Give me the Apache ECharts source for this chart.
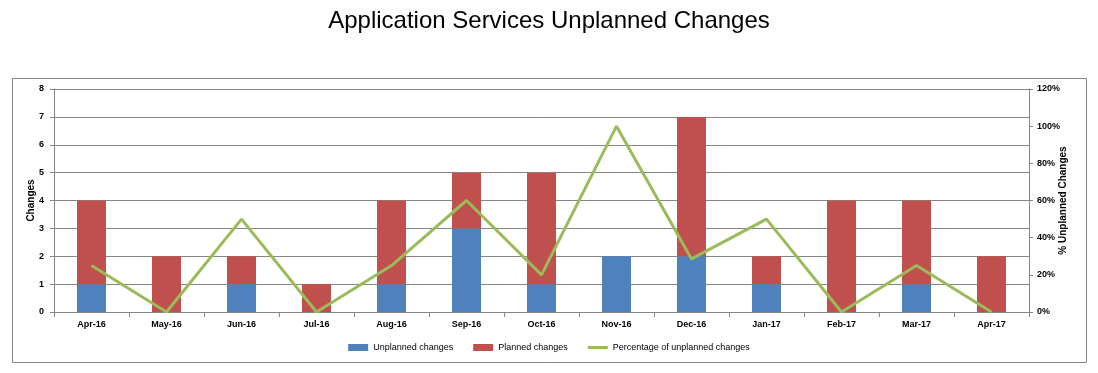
<!DOCTYPE html>
<html><head><meta charset="utf-8">
<script src="https://cdn.jsdelivr.net/npm/echarts@6/dist/echarts.min.js"></script>
<style>html,body{margin:0;padding:0;background:#fff}#c{width:1098px;height:373px}</style>
</head><body><div id="c"></div>
<script>
const categories = ['Apr-16','May-16','Jun-16','Jul-16','Aug-16','Sep-16','Oct-16','Nov-16','Dec-16','Jan-17','Feb-17','Mar-17','Apr-17'];
const unplanned = [1,0,1,0,1,3,1,2,2,1,0,1,0];
const planned = [3,2,1,1,3,2,4,0,5,1,4,3,2];
const pctUnplanned = [25,0,50,0,25,60,20,100,28.57,50,0,25,0];

const chart = echarts.init(document.getElementById('c'), null, {renderer:'canvas'});
const axisFont = {fontFamily:'Liberation Sans', fontSize:9, color:'#000', fontWeight:'bold'};
chart.setOption({
  animation:false,
  title:{text:'Application Services Unplanned Changes', left:'center', top:4,
    textStyle:{fontFamily:'Liberation Sans', fontSize:24, fontWeight:'normal', color:'#000'}},
  graphic:[{type:'rect', shape:{x:12.5,y:78.5,width:1074,height:284}, style:{fill:'none', stroke:'#868686', lineWidth:1}, z:-1}],
  grid:{left:54, right:69, top:89, bottom:61},
  legend:{bottom:16, left:'center', itemGap:20, itemWidth:20, itemHeight:7,
    textStyle:{fontFamily:'Liberation Sans', fontSize:9, color:'#000'},
    data:[{name:'Unplanned changes', icon:'rect'},{name:'Planned changes', icon:'rect'},
      {name:'Percentage of unplanned changes', icon:'path://M0,0 L20,0 L20,3 L0,3 Z', itemStyle:{color:'#9BBB59'}}]},
  xAxis:{type:'category', data:categories,
    axisLine:{lineStyle:{color:'#868686'}}, axisTick:{show:true, length:5, lineStyle:{color:'#868686'}},
    axisLabel:Object.assign({margin:8}, axisFont)},
  yAxis:[
    {type:'value', min:0, max:8, interval:1, name:'Changes', nameLocation:'middle', nameGap:18, nameRotate:90, nameMoveOverlap:false,
      nameTextStyle:{fontFamily:'Liberation Sans', fontSize:10, fontWeight:'bold', color:'#000'},
      axisLine:{show:true, lineStyle:{color:'#868686'}}, axisTick:{show:true, length:4, lineStyle:{color:'#868686'}},
      splitLine:{lineStyle:{color:'#868686'}}, axisLabel:Object.assign({margin:10}, axisFont)},
    {type:'value', min:0, max:120, interval:20, name:'% Unplanned Changes', nameLocation:'middle', nameGap:29, nameRotate:90, nameMoveOverlap:false,
      nameTextStyle:{fontFamily:'Liberation Sans', fontSize:10, fontWeight:'bold', color:'#000'},
      axisLine:{show:true, lineStyle:{color:'#868686'}}, axisTick:{show:true, length:4, lineStyle:{color:'#868686'}},
      splitLine:{show:false}, axisLabel:Object.assign({margin:8, formatter:'{value}%'}, axisFont)}
  ],
  series:[
    {name:'Unplanned changes', type:'bar', stack:'a', data:unplanned, barWidth:29, itemStyle:{color:'#4F81BD'}},
    {name:'Planned changes', type:'bar', stack:'a', data:planned, barWidth:29, itemStyle:{color:'#C0504D'}},
    {name:'Percentage of unplanned changes', type:'line', yAxisIndex:1, data:pctUnplanned, symbol:'none',
      lineStyle:{color:'#9BBB59', width:3}, itemStyle:{color:'#9BBB59'}}
  ]
});
</script></body></html>
